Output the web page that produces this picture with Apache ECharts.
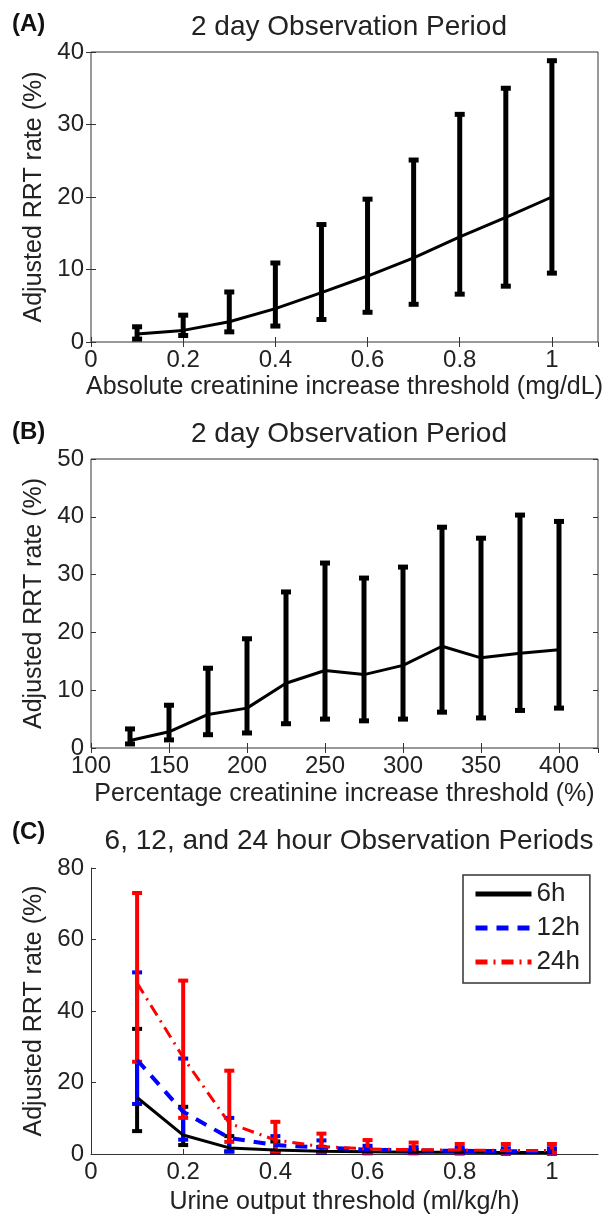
<!DOCTYPE html>
<html>
<head>
<meta charset="utf-8">
<script src="https://cdn.jsdelivr.net/npm/echarts@6/dist/echarts.min.js"></script>
<style>
  html, body { margin: 0; padding: 0; background: #fff; }
  #chart { width: 610px; height: 1218px; }
</style>
</head>
<body>
<div id="chart"></div>
<script>
// (A) absolute creatinine increase, 2 day window
const absX = [0.1, 0.2, 0.3, 0.4, 0.5, 0.6, 0.7, 0.8, 0.9, 1.0];
const absMean = [1.1, 1.6, 2.8, 4.6, 6.8, 9.1, 11.6, 14.5, 17.2, 20.0];
const absLow = [0.4, 0.9, 1.4, 2.2, 3.1, 4.1, 5.2, 6.6, 7.7, 9.5];
const absHigh = [2.1, 3.7, 6.9, 10.9, 16.2, 19.7, 25.1, 31.4, 35.0, 38.8];

// (B) percentage creatinine increase, 2 day window
const pctX = [125, 150, 175, 200, 225, 250, 275, 300, 325, 350, 375, 400];
const pctMean = [1.3, 2.8, 5.8, 6.9, 11.2, 13.4, 12.7, 14.3, 17.6, 15.6, 16.4, 17.0];
const pctLow = [0.7, 1.4, 2.3, 2.6, 4.2, 5.0, 4.7, 5.0, 6.2, 5.2, 6.5, 6.9];
const pctHigh = [3.3, 7.4, 13.8, 18.9, 27.0, 32.0, 29.4, 31.3, 38.2, 36.3, 40.3, 39.2];

// (C) urine output, 6/12/24 h windows
const urineX = [0.1, 0.2, 0.3, 0.4, 0.5, 0.6, 0.7, 0.8, 0.9, 1.0];
const h6Mean = [15.8, 5.3, 1.7, 1.1, 0.8, 0.6, 0.5, 0.5, 0.4, 0.4];
const h6Low = [6.4, 2.5, 0.7, 0.4, 0.3, 0.2, 0.2, 0.2, 0.1, 0.1];
const h6High = [35.0, 13.2, 5.0, 3.5, 2.0, 1.4, 1.1, 1.0, 0.9, 0.9];
const h12Mean = [26.3, 11.8, 4.5, 2.5, 1.8, 1.2, 1.0, 0.9, 0.8, 0.8];
const h12Low = [14.0, 4.0, 0.7, 0.5, 0.4, 0.3, 0.3, 0.2, 0.2, 0.2];
const h12High = [50.8, 26.7, 10.1, 5.0, 3.8, 2.3, 1.9, 1.7, 1.6, 1.6];
const h24Mean = [47.8, 27.0, 8.6, 3.9, 2.1, 1.4, 1.2, 1.1, 1.0, 1.0];
const h24Low = [25.8, 10.1, 3.4, 0.8, 0.6, 0.4, 0.4, 0.4, 0.4, 0.4];
const h24High = [73.0, 48.5, 23.3, 9.0, 5.7, 3.9, 3.2, 2.8, 2.8, 2.8];

const font = "'Liberation Sans', Arial, Helvetica, sans-serif";
const ink = '#222';

const pairs = (xs, ys) => xs.map((x, i) => [x, ys[i]]);

// vertical bar with end caps, like matlab's errorbar
const errorSeries = (name, idx, xs, lo, hi, color, lw, cap) => ({
  type: 'custom',
  name,
  xAxisIndex: idx,
  yAxisIndex: idx,
  encode: { x: 0, y: [1, 2] },
  data: xs.map((x, i) => [x, lo[i], hi[i]]),
  renderItem: (params, api) => {
    const x = api.value(0);
    const a = api.coord([x, api.value(1)]);
    const b = api.coord([x, api.value(2)]);
    const style = { stroke: color, lineWidth: lw, fill: null };
    return {
      type: 'group',
      children: [
        { type: 'line', shape: { x1: a[0], y1: a[1], x2: b[0], y2: b[1] }, style },
        { type: 'line', shape: { x1: a[0] - cap, y1: a[1], x2: a[0] + cap, y2: a[1] }, style },
        { type: 'line', shape: { x1: b[0] - cap, y1: b[1], x2: b[0] + cap, y2: b[1] }, style }
      ]
    };
  }
});

const meanSeries = (name, idx, xs, ys, color, lw, type) => ({
  type: 'line',
  name,
  xAxisIndex: idx,
  yAxisIndex: idx,
  data: pairs(xs, ys),
  symbol: 'none',
  lineStyle: { color, width: lw, type },
  itemStyle: { color }
});

const bottomX = (idx, min, max, step, name, gap) => ({
  type: 'value', gridIndex: idx, position: 'bottom',
  min, max, interval: step,
  name, nameLocation: 'middle', nameGap: gap,
  nameTextStyle: { fontFamily: font, fontSize: 25, color: ink },
  axisLine: { show: idx === 2, onZero: false, lineStyle: { color: '#333', width: 1 } },
  axisTick: { inside: true, length: 5, lineStyle: { color: '#333' } },
  axisLabel: { fontFamily: font, fontSize: 24, color: ink, margin: 6, showMaxLabel: max % step === 0 },
  splitLine: { show: false }
});

const leftY = (idx, max, step) => ({
  type: 'value', gridIndex: idx, position: 'left',
  min: 0, max, interval: step,
  name: 'Adjusted RRT rate (%)', nameLocation: 'middle', nameGap: 35,
  nameTextStyle: { fontFamily: font, fontSize: 25, color: ink },
  axisLine: { show: idx === 2, onZero: false, lineStyle: { color: '#333', width: 1 } },
  axisTick: { inside: true, length: 5, lineStyle: { color: '#333' } },
  axisLabel: { fontFamily: font, fontSize: 24, color: ink, margin: 7 },
  splitLine: { show: false }
});

// mirrored ticks on the top / right of boxed panels
const topX = (idx, min, max, step) => ({
  type: 'value', gridIndex: idx, position: 'top', min, max, interval: step,
  axisLine: { show: false }, axisLabel: { show: false }, splitLine: { show: false },
  axisTick: { inside: true, length: 5, lineStyle: { color: '#333' } }
});
const rightY = (idx, max, step) => ({
  type: 'value', gridIndex: idx, position: 'right', min: 0, max, interval: step,
  axisLine: { show: false }, axisLabel: { show: false }, splitLine: { show: false },
  axisTick: { inside: true, length: 5, lineStyle: { color: '#333' } }
});

const titleAt = (text, top) => ({
  text, left: 344, top, textAlign: 'center',
  textStyle: { fontFamily: font, fontSize: 28, fontWeight: 'normal', color: ink }
});
const tagAt = (text, top) => ({
  text, left: 7, top,
  textStyle: { fontFamily: font, fontSize: 24, fontWeight: 'bold', color: '#111' }
});

const chart = echarts.init(document.getElementById('chart'), null, { renderer: 'canvas' });

chart.setOption({
  animation: false,
  backgroundColor: '#fff',
  title: [
    titleAt('2 day Observation Period', 8),
    titleAt('2 day Observation Period', 415),
    titleAt('6, 12, and 24 hour Observation Periods', 822),
    tagAt('(A)', 7),
    tagAt('(B)', 415),
    tagAt('(C)', 815)
  ],
  grid: [
    { left: 91, right: 12, top: 52, height: 290, show: true, borderColor: '#333', borderWidth: 1 },
    { left: 91, right: 12, top: 459, height: 289, show: true, borderColor: '#333', borderWidth: 1 },
    { left: 91, right: 12, top: 868, height: 286 }
  ],
  xAxis: [
    bottomX(0, 0, 1.1, 0.2, 'Absolute creatinine increase threshold (mg/dL)', 33),
    bottomX(1, 100, 425, 50, 'Percentage creatinine increase threshold (%)', 34),
    bottomX(2, 0, 1.1, 0.2, 'Urine output threshold (ml/kg/h)', 36),
    topX(0, 0, 1.1, 0.2),
    topX(1, 100, 425, 50)
  ],
  yAxis: [
    leftY(0, 40, 10),
    leftY(1, 50, 10),
    leftY(2, 80, 20),
    rightY(0, 40, 10),
    rightY(1, 50, 10)
  ],
  legend: {
    orient: 'vertical',
    left: 463, top: 875,
    padding: [6, 10, 8, 10],
    itemGap: 8,
    itemWidth: 56, itemHeight: 14,
    borderColor: '#333', borderWidth: 1.5,
    backgroundColor: '#fff',
    itemStyle: { opacity: 0 },
    lineStyle: { width: 5 },
    data: ['6h', '12h', '24h'],
    textStyle: { fontFamily: font, fontSize: 26, color: ink }
  },
  series: [
    errorSeries('abs err', 0, absX, absLow, absHigh, '#000', 5, 5),
    meanSeries('abs', 0, absX, absMean, '#000', 3, 'solid'),
    errorSeries('pct err', 1, pctX, pctLow, pctHigh, '#000', 5, 5),
    meanSeries('pct', 1, pctX, pctMean, '#000', 3, 'solid'),
    errorSeries('6h err', 2, urineX, h6Low, h6High, '#000', 4, 5),
    meanSeries('6h', 2, urineX, h6Mean, '#000', 3, 'solid'),
    errorSeries('12h err', 2, urineX, h12Low, h12High, '#0000ff', 4, 5),
    meanSeries('12h', 2, urineX, h12Mean, '#0000ff', 4, [12, 9]),
    errorSeries('24h err', 2, urineX, h24Low, h24High, '#ff0000', 4, 5),
    meanSeries('24h', 2, urineX, h24Mean, '#ff0000', 3, [12, 6, 2, 6])
  ]
});
</script>
</body>
</html>
